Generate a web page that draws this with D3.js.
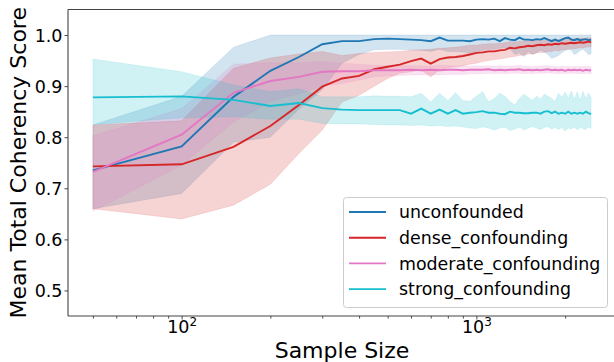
<!DOCTYPE html>
<html>
<head>
<meta charset="utf-8">
<script src="https://cdn.jsdelivr.net/npm/d3@7"></script>
<style>
  body { margin: 0; background: #fff; }
  #canvas { width: 614px; height: 362px; }
  text { font-family: "DejaVu Sans", sans-serif; fill: #000; }
</style>
</head>
<body>
<div id="canvas" class="canvas"></div>
<script>
// data
var sampleSizes = [50,100,150,200,250,300,350,400,450,500,550,600,650,700,750,800,850,900,950,1000,
  1050,1100,1150,1200,1250,1300,1350,1400,1450,1500,1550,1600,1650,1700,1750,1800,1850,1900,1950,2000,
  2050,2100,2150,2200,2250,2300,2350,2400,2450];

var unconfMean = [0.735,0.782,0.879,0.930,0.957,0.982,0.988,0.988,0.992,0.993,0.992,0.991,0.990,0.988,0.995,0.989,0.989,0.989,0.988,0.991,
  0.992,0.991,0.993,0.988,0.994,0.991,0.990,0.995,0.991,0.991,0.990,0.992,0.991,0.994,0.991,0.988,0.991,0.988,0.991,0.994,
  0.995,0.991,0.990,0.992,0.990,0.991,0.992,0.990,0.991];
var unconfLo = [0.660,0.690,0.790,0.800,0.855,0.893,0.945,0.962,0.971,0.972,0.972,0.971,0.970,0.968,0.972,0.968,0.968,0.967,0.965,0.968,
  0.970,0.972,0.972,0.974,0.975,0.973,0.962,0.965,0.958,0.968,0.962,0.966,0.970,0.967,0.962,0.954,0.957,0.960,0.966,0.970,
  0.972,0.970,0.962,0.965,0.970,0.972,0.968,0.962,0.964];
var unconfHi = [0.824,0.880,0.976,1.0,1.0,1.0,1.0,1.0,1.0,1.0,1.0,1.0,1.0,1.0,1.0,1.0,1.0,1.0,1.0,1.0,
  1.0,1.0,1.0,1.0,1.0,1.0,1.0,1.0,1.0,1.0,1.0,1.0,1.0,1.0,1.0,1.0,1.0,1.0,1.0,1.0,
  1.0,1.0,1.0,1.0,1.0,1.0,1.0,1.0,1.0];

var denseMean = [0.743,0.747,0.781,0.822,0.863,0.899,0.915,0.920,0.933,0.938,0.942,0.949,0.954,0.944,0.953,0.956,0.957,0.959,0.962,0.965,
  0.966,0.968,0.968,0.970,0.971,0.975,0.974,0.976,0.977,0.979,0.978,0.980,0.981,0.980,0.982,0.981,0.983,0.982,0.984,0.983,
  0.984,0.985,0.984,0.985,0.986,0.985,0.986,0.987,0.986];
var denseLo = [0.660,0.640,0.667,0.708,0.768,0.814,0.869,0.882,0.900,0.915,0.925,0.928,0.932,0.918,0.932,0.936,0.938,0.940,0.943,0.945,
  0.948,0.950,0.952,0.953,0.955,0.957,0.958,0.960,0.961,0.963,0.963,0.965,0.966,0.966,0.968,0.968,0.970,0.969,0.971,0.971,
  0.972,0.973,0.973,0.974,0.975,0.975,0.976,0.977,0.977];
var denseHi = [0.824,0.832,0.935,0.955,0.963,0.968,0.960,0.964,0.966,0.967,0.968,0.970,0.971,0.972,0.974,0.975,0.976,0.978,0.980,0.980,
  0.982,0.983,0.983,0.984,0.985,0.987,0.986,0.988,0.988,0.989,0.989,0.990,0.990,0.990,0.991,0.991,0.992,0.991,0.993,0.992,
  0.993,0.993,0.993,0.994,0.994,0.994,0.994,0.995,0.994];

var moderateMean = [0.732,0.805,0.887,0.910,0.918,0.928,0.929,0.929,0.931,0.931,0.931,0.932,0.931,0.932,0.931,0.932,0.932,0.931,0.932,0.932,
  0.932,0.933,0.931,0.932,0.931,0.932,0.932,0.933,0.931,0.932,0.931,0.932,0.931,0.932,0.933,0.931,0.932,0.931,0.932,0.930,
  0.932,0.931,0.932,0.931,0.932,0.930,0.932,0.931,0.931];
var moderateLo = [0.655,0.745,0.830,0.870,0.885,0.900,0.905,0.912,0.918,0.920,0.921,0.922,0.922,0.923,0.922,0.923,0.923,0.923,0.924,0.924,
  0.924,0.925,0.924,0.925,0.924,0.925,0.925,0.925,0.924,0.925,0.924,0.925,0.925,0.925,0.926,0.925,0.925,0.924,0.925,0.924,
  0.925,0.925,0.925,0.924,0.925,0.924,0.925,0.925,0.924];
var moderateHi = [0.803,0.856,0.943,0.946,0.946,0.948,0.945,0.943,0.941,0.940,0.940,0.940,0.940,0.939,0.941,0.940,0.939,0.940,0.939,0.940,
  0.939,0.940,0.939,0.940,0.939,0.939,0.940,0.941,0.939,0.939,0.938,0.939,0.939,0.940,0.940,0.939,0.939,0.938,0.939,0.938,
  0.939,0.938,0.939,0.938,0.939,0.938,0.939,0.939,0.938];

var strongMean = [0.878,0.880,0.873,0.861,0.867,0.857,0.854,0.853,0.853,0.853,0.853,0.846,0.856,0.846,0.854,0.846,0.853,0.846,0.848,0.849,
  0.851,0.848,0.848,0.846,0.845,0.850,0.848,0.848,0.847,0.847,0.848,0.848,0.846,0.850,0.851,0.847,0.850,0.846,0.848,0.846,
  0.850,0.846,0.848,0.846,0.848,0.846,0.850,0.847,0.845];
var strongLo = [0.825,0.838,0.840,0.835,0.835,0.827,0.826,0.826,0.825,0.824,0.824,0.823,0.824,0.822,0.823,0.821,0.822,0.820,0.818,0.817,
  0.820,0.818,0.814,0.818,0.820,0.813,0.816,0.820,0.814,0.818,0.821,0.818,0.815,0.819,0.821,0.816,0.819,0.815,0.819,0.812,
  0.818,0.816,0.820,0.814,0.819,0.817,0.815,0.820,0.817];
var strongHi = [0.953,0.928,0.902,0.889,0.895,0.879,0.879,0.879,0.881,0.880,0.880,0.879,0.886,0.869,0.886,0.872,0.887,0.872,0.870,0.880,
  0.889,0.869,0.876,0.886,0.880,0.870,0.863,0.876,0.884,0.878,0.872,0.880,0.875,0.884,0.880,0.876,0.870,0.886,0.878,0.888,
  0.876,0.890,0.874,0.889,0.872,0.890,0.875,0.886,0.878];

var seriesNames = ['unconfounded','dense_confounding','moderate_confounding','strong_confounding'];
var seriesColors = ['#1f77b4','#d62728','#e377c2','#17becf'];
var yTicks = [0.5,0.6,0.7,0.8,0.9,1.0];
var xMajorTicks = [100,1000];
var xMinorTicks = [50,60,70,80,90,200,300,400,500,600,700,800,900,2000];

var series = [
  {name: seriesNames[0], color: seriesColors[0], mean: unconfMean, lo: unconfLo, hi: unconfHi},
  {name: seriesNames[1], color: seriesColors[1], mean: denseMean, lo: denseLo, hi: denseHi},
  {name: seriesNames[2], color: seriesColors[2], mean: moderateMean, lo: moderateLo, hi: moderateHi},
  {name: seriesNames[3], color: seriesColors[3], mean: strongMean, lo: strongLo, hi: strongHi}
];

var W = 614, H = 362;
var m = {t: 9.5, r: -2, b: 46, l: 68};

var svg = d3.select('.canvas')
    .append('svg')
    .attr('width', W)
    .attr('height', H);

// log x with matplotlib-like 5% margins
var lx = d3.extent(sampleSizes).map(Math.log10);
var pad = (lx[1] - lx[0]) * 0.05;
var scaleX = d3.scaleLog()
    .domain([Math.pow(10, lx[0] - pad), Math.pow(10, lx[1] + pad)])
    .range([m.l, W - m.r]);
var scaleY = d3.scaleLinear()
    .domain([0.45, 1.05])
    .range([H - m.b, m.t]);

var plot = svg.append('g');

// bands first, then lines
series.forEach(function(s){
    var rows = sampleSizes.map(function(n, i){ return {n: n, lo: s.lo[i], hi: s.hi[i]}; });
    plot.append('path')
        .datum(rows)
        .attr('fill', s.color)
        .attr('fill-opacity', 0.2)
        .attr('stroke', s.color)
        .attr('stroke-opacity', 0.15)
        .attr('stroke-width', 0.8)
        .attr('d', d3.area()
            .x(function(d){ return scaleX(d.n); })
            .y0(function(d){ return scaleY(d.lo); })
            .y1(function(d){ return scaleY(d.hi); }));
});
series.forEach(function(s){
    plot.append('path')
        .datum(s.mean)
        .attr('fill', 'none')
        .attr('stroke', s.color)
        .attr('stroke-width', 1.9)
        .attr('d', d3.line()
            .x(function(d, i){ return scaleX(sampleSizes[i]); })
            .y(function(d){ return scaleY(d); }));
});

// axes
var axisY = d3.axisLeft(scaleY)
    .tickValues(yTicks)
    .tickFormat(d3.format('.1f'))
    .tickSize(3.5)
    .tickPadding(2);
var gy = svg.append('g')
    .attr('transform', 'translate(' + m.l + ',0)')
    .call(axisY);

var axisXMinor = d3.axisBottom(scaleX)
    .tickValues(xMinorTicks)
    .tickFormat('')
    .tickSize(2.5);
var gxm = svg.append('g')
    .attr('transform', 'translate(0,' + (H - m.b) + ')')
    .call(axisXMinor);

var axisX = d3.axisBottom(scaleX)
    .tickValues(xMajorTicks)
    .tickFormat('')
    .tickSize(3.5);
var gx = svg.append('g')
    .attr('transform', 'translate(0,' + (H - m.b) + ')')
    .call(axisX);

[gy, gx, gxm].forEach(function(g){
    g.select('.domain').remove();
    g.selectAll('line').attr('stroke', '#333').attr('stroke-width', 0.9);
});
gy.selectAll('text')
    .attr('font-size', 17.5)
    .attr('font-family', 'DejaVu Sans')
    .attr('fill', '#000')
    .attr('dy', '0.36em');

// 10^k labels
gx.selectAll('.tick').each(function(d){
    var t = d3.select(this).append('text')
        .attr('y', 17)
        .attr('text-anchor', 'middle')
        .attr('font-size', 17.5)
        .attr('fill', '#000');
    t.append('tspan').text('10');
    t.append('tspan')
        .attr('font-size', 12)
        .attr('dy', -7)
        .text(Math.round(Math.log10(d)));
});

// spines (left, top, bottom)
var spine = svg.append('g').attr('stroke', '#444').attr('stroke-width', 1.1);
spine.append('line').attr('x1', m.l).attr('x2', m.l).attr('y1', m.t).attr('y2', H - m.b);
spine.append('line').attr('x1', m.l).attr('x2', W - m.r).attr('y1', m.t).attr('y2', m.t);
spine.append('line').attr('x1', m.l).attr('x2', W - m.r).attr('y1', H - m.b).attr('y2', H - m.b);

// axis titles
svg.append('text')
    .attr('transform', 'translate(25.5,' + ((m.t + H - m.b) / 2) + ') rotate(-90)')
    .attr('text-anchor', 'middle')
    .attr('font-size', 22)
    .text('Mean Total Coherency Score');
svg.append('text')
    .attr('x', (m.l + W - m.r) / 2)
    .attr('y', 358)
    .attr('text-anchor', 'middle')
    .attr('font-size', 22)
    .text('Sample Size');

// legend
var lg = svg.append('g').attr('transform', 'translate(343,197)');
lg.append('rect')
    .attr('x', 0.5).attr('y', 0.5)
    .attr('width', 264).attr('height', 110)
    .attr('rx', 3)
    .attr('fill', '#fff').attr('fill-opacity', 0.8)
    .attr('stroke', '#ccc').attr('stroke-width', 1);
series.forEach(function(s, i){
    var yy = 15 + i * 25.7;
    lg.append('line')
        .attr('x1', 6).attr('x2', 43)
        .attr('y1', yy).attr('y2', yy)
        .attr('stroke', s.color).attr('stroke-width', 1.9);
    lg.append('text')
        .attr('x', 56).attr('y', yy)
        .attr('dy', '0.36em')
        .attr('font-size', 17.4)
        .text(s.name);
});
</script>
</body>
</html>
